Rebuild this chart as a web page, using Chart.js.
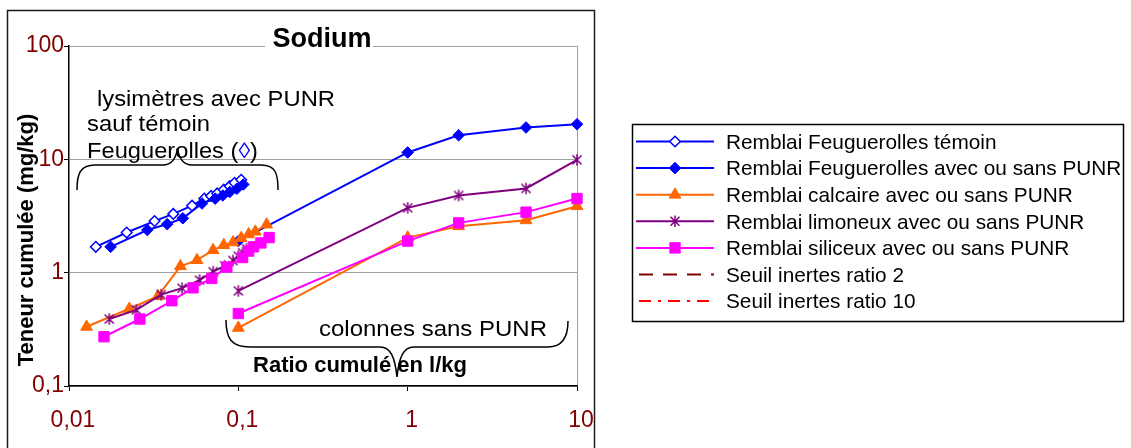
<!DOCTYPE html>
<html><head><meta charset="utf-8">
<script src="https://cdn.jsdelivr.net/npm/chart.js@4.4.0/dist/chart.umd.min.js"></script>
<style>
html,body{margin:0;padding:0;background:#fff;}
#wrap{position:relative;width:1131px;height:448px;overflow:hidden;background:#fff;}
#c{position:absolute;left:0;top:0;}
#ov{position:absolute;left:0;top:0;pointer-events:none;font-family:"Liberation Sans",Arial,sans-serif;}
</style></head><body>
<div id="wrap">
<canvas id="c" width="600" height="448" style="width:600px;height:448px"></canvas>
<svg id="ov" width="1131" height="448" xmlns="http://www.w3.org/2000/svg"></svg>
</div>
<script>
// ---------- data ----------
const xTicks = [0.01, 0.1, 1, 10];
const xTickLabels = ['0,01', '0,1', '1', '10'];
const yTicks = [0.1, 1, 10, 100];
const yTickLabels = ['0,1', '1', '10', '100'];

const seriesLabels = [
  'Remblai Feuguerolles témoin',
  'Remblai Feuguerolles avec ou sans PUNR',
  'Remblai calcaire avec ou sans PUNR',
  'Remblai limoneux avec ou sans PUNR',
  'Remblai siliceux avec ou sans PUNR',
  'Seuil inertes ratio 2',
  'Seuil inertes ratio 10'
];

// colonnes sans PUNR (ratio cumulé)
const colonneX = [0.1, 1, 2, 5, 10];

// lysimètres
const temoinLysX = [0.0144, 0.0219, 0.032, 0.0413, 0.0533, 0.063, 0.069, 0.075, 0.082, 0.089, 0.095, 0.104];
const temoinLysY = [1.69, 2.26, 2.85, 3.3, 3.9, 4.5, 4.75, 5.0, 5.4, 5.8, 6.2, 6.6];

const feugLysX = [0.0176, 0.029, 0.038, 0.047, 0.061, 0.073, 0.081, 0.089, 0.098, 0.107];
const feugLysY = [1.69, 2.38, 2.68, 3.02, 4.08, 4.5, 4.8, 5.15, 5.5, 6.0];
const feugColY = [1.9, 11.5, 16.3, 19.1, 20.4];

const calcLysX = [0.0127, 0.0227, 0.0335, 0.0455, 0.057, 0.071, 0.082, 0.093, 0.104, 0.115, 0.126, 0.147];
const calcLysY = [0.333, 0.48, 0.62, 1.14, 1.29, 1.58, 1.75, 1.85, 2.02, 2.18, 2.3, 2.66];
const calcColY = [0.326, 2.04, 2.57, 2.9, 3.86];

const limonLysX = [0.0173, 0.025, 0.035, 0.0465, 0.059, 0.071, 0.083, 0.093, 0.1, 0.106, 0.112];
const limonLysY = [0.39, 0.47, 0.64, 0.73, 0.86, 1.02, 1.15, 1.28, 1.4, 1.5, 1.62];
const limonColY = [0.69, 3.73, 4.8, 5.53, 9.9];

const siliLysX = [0.0161, 0.0262, 0.0405, 0.054, 0.0697, 0.0855, 0.106, 0.115, 0.123, 0.136, 0.152];
const siliLysY = [0.272, 0.39, 0.565, 0.735, 0.89, 1.12, 1.36, 1.55, 1.69, 1.83, 2.04];
const siliColY = [0.436, 1.9, 2.75, 3.42, 4.51];

// ---------- helpers ----------
function pts(xs, ys) { return xs.map((x, i) => ({ x: x, y: ys[i] })); }
function withGap(a, b) { return a.concat([{ x: a[a.length - 1].x, y: null }], b); }

const colors = ['#0000FF', '#0000FF', '#FF6600', '#800080', '#FF00FF', '#800000', '#FF0000'];

function starImg(color, r, lw) {
  const s = Math.ceil(2 * r + lw + 2);
  const c = document.createElement('canvas');
  c.width = s; c.height = s;
  const g = c.getContext('2d');
  g.strokeStyle = color; g.lineWidth = lw; g.lineCap = 'butt';
  const m = s / 2, d = r * 0.78;
  g.beginPath();
  g.moveTo(m, m - r); g.lineTo(m, m + r);
  g.moveTo(m - d, m - d); g.lineTo(m + d, m + d);
  g.moveTo(m + d, m - d); g.lineTo(m - d, m + d);
  g.stroke();
  return c;
}

const markers = [
  { style: 'rectRot', r: 5.3, fill: '#FFFFFF', bw: 1.5 },
  { style: 'rectRot', r: 5.8, fill: colors[1], bw: 1 },
  { style: 'triangle', r: 6.8, fill: colors[2], bw: 1 },
  { style: 'star', r: 5.8, fill: colors[3], bw: 1.5 },
  { style: 'rect', r: 7.3, fill: colors[4], bw: 1 },
  null, null
];

const seriesData = [
  pts(temoinLysX, temoinLysY),
  withGap(pts(feugLysX, feugLysY), pts(colonneX, feugColY)),
  withGap(pts(calcLysX, calcLysY), pts(colonneX, calcColY)),
  withGap(pts(limonLysX, limonLysY), pts(colonneX, limonColY)),
  withGap(pts(siliLysX, siliLysY), pts(colonneX, siliColY)),
  [], []
];

const starCanvas = starImg(colors[3], 5.8, 1.5);

const datasets = seriesLabels.map((lab, i) => {
  const m = markers[i];
  const ds = {
    label: lab,
    data: seriesData[i],
    showLine: true,
    spanGaps: false,
    borderColor: colors[i],
    borderWidth: 2,
    fill: false,
    tension: 0,
    clip: false,
    order: 10 - i
  };
  if (m) {
    ds.pointStyle = m.style === 'star' ? starCanvas : m.style;
    ds.pointRadius = m.r;
    ds.pointBackgroundColor = m.fill;
    ds.pointBorderColor = colors[i];
    ds.pointBorderWidth = m.bw;
  } else {
    ds.pointRadius = 0;
    ds.borderDash = i === 5 ? [14, 10] : [12, 6, 3, 6];
  }
  return ds;
});

const tickFont = { family: '"Liberation Sans", Arial, sans-serif', size: 23 };
const tickColor = '#800000';

new Chart(document.getElementById('c'), {
  type: 'scatter',
  data: { datasets: datasets },
  options: {
    responsive: false,
    animation: false,
    events: [],
    layout: { padding: { top: 46, right: 23, left: 0, bottom: 0 } },
    plugins: { legend: { display: false }, title: { display: false }, tooltip: { enabled: false } },
    scales: {
      x: {
        type: 'logarithmic',
        min: 0.01, max: 10,
        afterFit: s => { s.height = 62; s.paddingLeft = 0; s.paddingRight = 0; },
        afterBuildTicks: s => { s.ticks = xTicks.map(v => ({ value: v })); },
        ticks: {
          autoSkip: false, maxRotation: 0, minRotation: 0,
          font: tickFont, color: tickColor, padding: 16, labelOffset: 4,
          callback: (v, i) => xTickLabels[i]
        },
        grid: {
          color: c => (c.tick && c.tick.value === 10) ? '#A0A0A0' : 'rgba(0,0,0,0)',
          tickColor: '#000', tickLength: 5, lineWidth: 1
        },
        border: { display: true, color: '#000', width: 1.5 }
      },
      y: {
        type: 'logarithmic',
        min: 0.1, max: 100,
        afterFit: s => { s.width = 69; s.paddingTop = 0; s.paddingBottom = 0; },
        afterBuildTicks: s => { s.ticks = yTicks.map(v => ({ value: v })); },
        ticks: {
          autoSkip: false,
          font: tickFont, color: tickColor, padding: 0,
          callback: (v, i) => yTickLabels[i]
        },
        grid: { color: '#A0A0A0', tickColor: '#000', tickLength: 5, lineWidth: 1 },
        border: { display: true, color: '#000', width: 1.5 }
      }
    }
  }
});

// ---------- overlay: titles, annotations, legend ----------
const svg = document.getElementById('ov');
const NS = 'http://www.w3.org/2000/svg';
function el(tag, attrs, text) {
  const e = document.createElementNS(NS, tag);
  for (const k in attrs) e.setAttribute(k, attrs[k]);
  if (text !== undefined) e.textContent = text;
  svg.appendChild(e);
  return e;
}

// outer chart frame
el('rect', { x: 7.5, y: 10.5, width: 587, height: 460, fill: 'none', stroke: '#1a1a1a', 'stroke-width': 1.5 });

// title
el('rect', { x: 265, y: 22, width: 108, height: 28, fill: '#fff' });
el('text', { x: 322, y: 46.5, 'text-anchor': 'middle', 'font-size': 27, 'font-weight': 'bold', fill: '#000' }, 'Sodium');

// y axis title
el('text', { transform: 'translate(33,240) rotate(-90)', 'text-anchor': 'middle', 'font-size': 22, 'font-weight': 'bold', fill: '#000' }, 'Teneur cumulée (mg/kg)');

// x axis title (inside plot)
el('text', { x: 360, y: 372, 'text-anchor': 'middle', 'font-size': 22, 'font-weight': 'bold', fill: '#000' }, 'Ratio cumulé en l/kg');

// annotation lysimètres
el('text', { x: 97, y: 106, 'font-size': 22, textLength: 238, lengthAdjust: 'spacingAndGlyphs', fill: '#000' }, 'lysimètres avec PUNR');
el('text', { x: 87, y: 131, 'font-size': 22, textLength: 123, lengthAdjust: 'spacingAndGlyphs', fill: '#000' }, 'sauf témoin');
const t3 = el('text', { x: 87, y: 158, 'font-size': 22, textLength: 171, lengthAdjust: 'spacingAndGlyphs', fill: '#000' });
const s1 = document.createElementNS(NS, 'tspan'); s1.textContent = 'Feuguerolles ('; t3.appendChild(s1);
const s2 = document.createElementNS(NS, 'tspan'); s2.textContent = '◊'; s2.setAttribute('fill', '#0000FF'); t3.appendChild(s2);
const s3 = document.createElementNS(NS, 'tspan'); s3.textContent = ')'; t3.appendChild(s3);

el('path', { d: 'M77,190 C77,174 80,165 95,165 L163,165 C172,165 176,159 177.5,148 C179,159 183,165 192,165 L261,165 C276,165 278,174 278,190',
  fill: 'none', stroke: '#000', 'stroke-width': 1.5 });

// annotation colonnes
el('text', { x: 319, y: 336, 'font-size': 22, textLength: 228, lengthAdjust: 'spacingAndGlyphs', fill: '#000' }, 'colonnes sans PUNR');
el('path', { d: 'M226,320 C226,338 231,347 250,347 L380,347 C391,347 395,358 397,377 C399,358 403,347 414,347 L548,347 C562,347 568,338 568,321',
  fill: 'none', stroke: '#000', 'stroke-width': 1.5 });

// legend
el('rect', { x: 632.5, y: 124.5, width: 491, height: 197, fill: '#fff', stroke: '#000', 'stroke-width': 1.5 });
seriesLabels.forEach((lab, i) => {
  const cy = 141.5 + 26.6 * i;
  const col = colors[i];
  const m = markers[i];
  if (m) {
    el('line', { x1: 636, y1: cy, x2: 714, y2: cy, stroke: col, 'stroke-width': 2 });
    const cx = 675;
    if (m.style === 'rectRot') {
      const r = m.r;
      el('polygon', { points: `${cx},${cy - r} ${cx + r},${cy} ${cx},${cy + r} ${cx - r},${cy}`, fill: m.fill, stroke: col, 'stroke-width': m.bw });
    } else if (m.style === 'triangle') {
      const r = m.r;
      el('polygon', { points: `${cx},${cy - r} ${cx + r * 0.866},${cy + r / 2} ${cx - r * 0.866},${cy + r / 2}`, fill: m.fill, stroke: col, 'stroke-width': m.bw });
    } else if (m.style === 'rect') {
      const h = m.r * 0.7071;
      el('rect', { x: cx - h, y: cy - h, width: 2 * h, height: 2 * h, fill: m.fill, stroke: col, 'stroke-width': m.bw });
    } else if (m.style === 'star') {
      const r = m.r, d = r * 0.78;
      el('path', { d: `M${cx},${cy - r} L${cx},${cy + r} M${cx - d},${cy - d} L${cx + d},${cy + d} M${cx + d},${cy - d} L${cx - d},${cy + d}`, stroke: col, 'stroke-width': m.bw, fill: 'none' });
    }
  } else {
    el('line', { x1: 639, y1: cy, x2: 714, y2: cy, stroke: col, 'stroke-width': 2, 'stroke-dasharray': i === 5 ? '14 10' : '12 7 3 7' });
  }
  el('text', { x: 726, y: cy + 7.3, 'font-size': 20.8, fill: '#000' }, lab);
});
</script>
</body></html>
